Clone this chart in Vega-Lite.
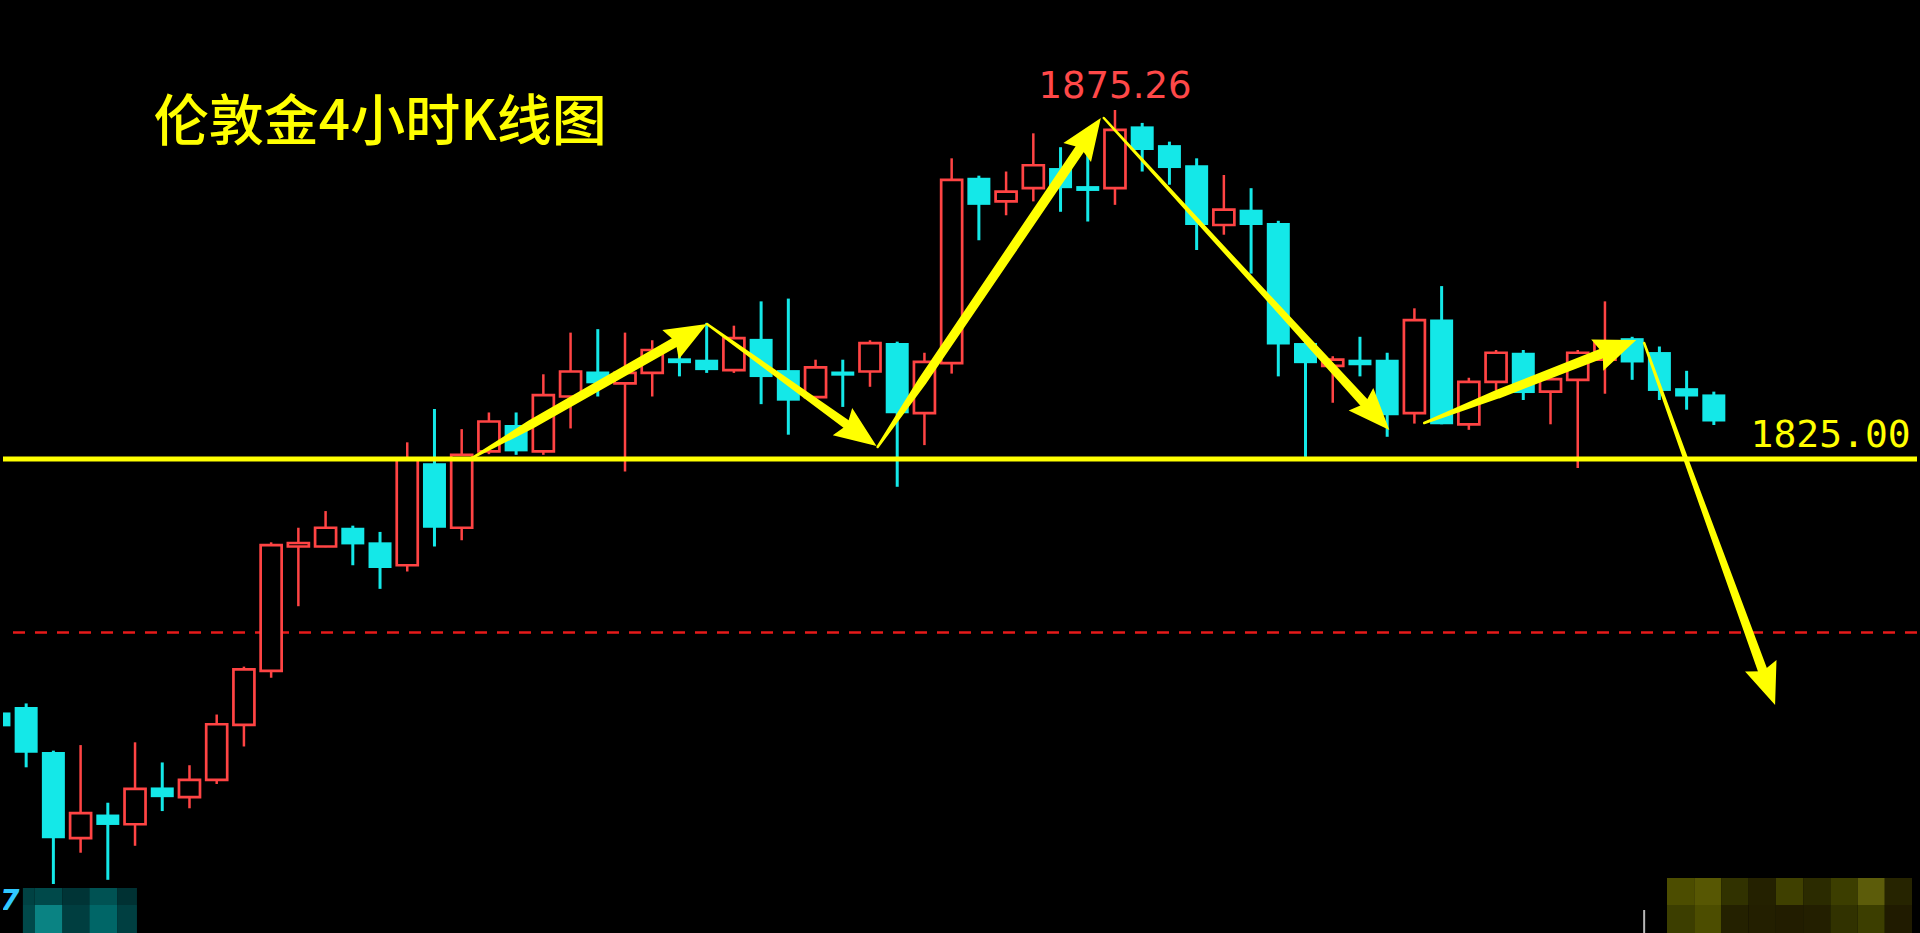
{
  "$schema": "https://vega.github.io/schema/vega-lite/v6.json",
  "width": 1920,
  "height": 933,
  "autosize": {"type": "fit", "contains": "padding"},
  "padding": 0,
  "background": "#000000",
  "config": {"view": {"stroke": null}},
  "datasets": {
    "candles": [
      {"i": -1, "o": 1788.5, "h": 1789.0, "l": 1786.0, "c": 1786.5},
      {"i": 0, "o": 1789.3, "h": 1789.8, "l": 1780.6, "c": 1782.7},
      {"i": 1, "o": 1782.8, "h": 1783.0, "l": 1763.8, "c": 1770.4},
      {"i": 2, "o": 1770.4, "h": 1783.8, "l": 1768.3, "c": 1774.0},
      {"i": 3, "o": 1773.8, "h": 1775.5, "l": 1764.4, "c": 1772.3},
      {"i": 4, "o": 1772.4, "h": 1784.2, "l": 1769.3, "c": 1777.5},
      {"i": 5, "o": 1777.7, "h": 1781.3, "l": 1774.3, "c": 1776.3},
      {"i": 6, "o": 1776.3, "h": 1780.9, "l": 1774.7, "c": 1778.8},
      {"i": 7, "o": 1778.8, "h": 1788.2, "l": 1778.2, "c": 1786.8},
      {"i": 8, "o": 1786.7, "h": 1795.1, "l": 1783.6, "c": 1794.7},
      {"i": 9, "o": 1794.5, "h": 1813.0, "l": 1793.5, "c": 1812.6},
      {"i": 10, "o": 1812.4, "h": 1815.1, "l": 1803.8, "c": 1812.9},
      {"i": 11, "o": 1812.4, "h": 1817.5, "l": 1812.3, "c": 1815.1},
      {"i": 12, "o": 1815.1, "h": 1815.4, "l": 1809.7, "c": 1812.7},
      {"i": 13, "o": 1813.0, "h": 1814.5, "l": 1806.3, "c": 1809.3},
      {"i": 14, "o": 1809.7, "h": 1827.4, "l": 1808.8, "c": 1825.1},
      {"i": 15, "o": 1824.4, "h": 1832.2, "l": 1812.4, "c": 1815.1},
      {"i": 16, "o": 1815.1, "h": 1829.3, "l": 1813.3, "c": 1825.6},
      {"i": 17, "o": 1826.1, "h": 1831.7, "l": 1825.7, "c": 1830.4},
      {"i": 18, "o": 1829.9, "h": 1831.7, "l": 1825.6, "c": 1826.1},
      {"i": 19, "o": 1826.1, "h": 1837.2, "l": 1825.6, "c": 1834.2},
      {"i": 20, "o": 1834.0, "h": 1843.2, "l": 1829.4, "c": 1837.6},
      {"i": 21, "o": 1837.6, "h": 1843.7, "l": 1834.0, "c": 1835.9},
      {"i": 22, "o": 1835.9, "h": 1843.2, "l": 1823.2, "c": 1837.4},
      {"i": 23, "o": 1837.4, "h": 1842.1, "l": 1834.0, "c": 1840.7},
      {"i": 24, "o": 1839.5, "h": 1840.3, "l": 1836.9, "c": 1838.8},
      {"i": 25, "o": 1839.3, "h": 1844.6, "l": 1837.4, "c": 1837.8},
      {"i": 26, "o": 1837.8, "h": 1844.2, "l": 1837.4, "c": 1842.4},
      {"i": 27, "o": 1842.3, "h": 1847.7, "l": 1832.9, "c": 1836.8},
      {"i": 28, "o": 1837.8, "h": 1848.1, "l": 1828.5, "c": 1833.4},
      {"i": 29, "o": 1833.9, "h": 1839.3, "l": 1833.5, "c": 1838.2},
      {"i": 30, "o": 1837.6, "h": 1839.3, "l": 1832.5, "c": 1837.0},
      {"i": 31, "o": 1837.6, "h": 1842.1, "l": 1835.4, "c": 1841.7},
      {"i": 32, "o": 1841.7, "h": 1841.9, "l": 1821.0, "c": 1831.6},
      {"i": 33, "o": 1831.6, "h": 1840.3, "l": 1827.0, "c": 1839.0},
      {"i": 34, "o": 1838.8, "h": 1868.3, "l": 1837.3, "c": 1865.2},
      {"i": 35, "o": 1865.5, "h": 1865.8, "l": 1856.5, "c": 1861.6},
      {"i": 36, "o": 1862.1, "h": 1866.4, "l": 1860.1, "c": 1863.5},
      {"i": 37, "o": 1864.0, "h": 1871.9, "l": 1862.1, "c": 1867.3},
      {"i": 38, "o": 1866.9, "h": 1869.9, "l": 1860.6, "c": 1864.0},
      {"i": 39, "o": 1864.3, "h": 1869.3, "l": 1859.2, "c": 1863.6},
      {"i": 40, "o": 1864.0, "h": 1875.26, "l": 1861.6, "c": 1872.4},
      {"i": 41, "o": 1872.9, "h": 1873.4, "l": 1866.4, "c": 1869.5},
      {"i": 42, "o": 1870.2, "h": 1870.7, "l": 1864.5, "c": 1866.9},
      {"i": 43, "o": 1867.3, "h": 1868.3, "l": 1855.1, "c": 1858.7},
      {"i": 44, "o": 1858.7, "h": 1865.9, "l": 1857.3, "c": 1860.9},
      {"i": 45, "o": 1860.9, "h": 1864.0, "l": 1851.7, "c": 1858.7},
      {"i": 46, "o": 1859.0, "h": 1859.3, "l": 1836.9, "c": 1841.5},
      {"i": 47, "o": 1841.7, "h": 1841.9, "l": 1825.3, "c": 1838.8},
      {"i": 48, "o": 1838.4, "h": 1839.8, "l": 1833.1, "c": 1839.3},
      {"i": 49, "o": 1839.3, "h": 1842.6, "l": 1836.9, "c": 1838.5},
      {"i": 50, "o": 1839.3, "h": 1840.3, "l": 1828.2, "c": 1831.3},
      {"i": 51, "o": 1831.6, "h": 1846.7, "l": 1830.1, "c": 1845.0},
      {"i": 52, "o": 1845.1, "h": 1849.9, "l": 1830.0, "c": 1830.0},
      {"i": 53, "o": 1830.0, "h": 1836.7, "l": 1829.2, "c": 1836.1},
      {"i": 54, "o": 1836.1, "h": 1840.7, "l": 1834.9, "c": 1840.3},
      {"i": 55, "o": 1840.3, "h": 1840.7, "l": 1833.5, "c": 1834.5},
      {"i": 56, "o": 1834.7, "h": 1837.0, "l": 1830.0, "c": 1836.5},
      {"i": 57, "o": 1836.4, "h": 1840.7, "l": 1823.7, "c": 1840.3},
      {"i": 58, "o": 1839.3, "h": 1847.7, "l": 1834.4, "c": 1841.7},
      {"i": 59, "o": 1842.4, "h": 1842.6, "l": 1836.4, "c": 1838.9},
      {"i": 60, "o": 1840.4, "h": 1841.2, "l": 1833.5, "c": 1834.8},
      {"i": 61, "o": 1835.2, "h": 1837.7, "l": 1832.1, "c": 1834.0},
      {"i": 62, "o": 1834.3, "h": 1834.7, "l": 1829.9, "c": 1830.4}
    ],
    "arrows": [
      {"a": "A1", "i": 16.38, "p": 1825.14, "stage": 0},
      {"a": "A1", "i": 18.54, "p": 1829.97, "stage": 2.6},
      {"a": "A1", "i": 24.44, "p": 1843.16, "stage": 3},
      {"a": "A2", "i": 25.01, "p": 1844.44, "stage": 0},
      {"a": "A2", "i": 30.71, "p": 1828.38, "stage": 3},
      {"a": "A3", "i": 31.28, "p": 1826.73, "stage": 0},
      {"a": "A3", "i": 32.92, "p": 1836.2, "stage": 2.6},
      {"a": "A3", "i": 39.11, "p": 1871.96, "stage": 3},
      {"a": "A4", "i": 39.59, "p": 1874.11, "stage": 0},
      {"a": "A4", "i": 44.14, "p": 1854.6, "stage": 1},
      {"a": "A4", "i": 49.63, "p": 1831.08, "stage": 3},
      {"a": "A5", "i": 51.36, "p": 1830.18, "stage": 0},
      {"a": "A5", "i": 54.08, "p": 1834.37, "stage": 2.6},
      {"a": "A5", "i": 58.54, "p": 1841.2, "stage": 3},
      {"a": "A6", "i": 59.44, "p": 1841.7, "stage": 0},
      {"a": "A6", "i": 60.97, "p": 1825.0, "stage": 1},
      {"a": "A6", "i": 64.03, "p": 1792.01, "stage": 3}
    ],
    "heads": [
      {"a": "A1", "i": 25.01, "p": 1844.44, "ang": 60.5},
      {"a": "A2", "i": 31.24, "p": 1826.87, "ang": 125.5},
      {"a": "A3", "i": 39.48, "p": 1874.11, "ang": 34.4},
      {"a": "A4", "i": 50.08, "p": 1829.18, "ang": 137.3},
      {"a": "A5", "i": 59.15, "p": 1842.14, "ang": 68.8},
      {"a": "A6", "i": 64.25, "p": 1789.57, "ang": 160.0}
    ],
    "olive": [
      {"x0": 60.28, "x1": 61.28, "y0": 1760.77, "y1": 1764.66, "shade": 0.29},
      {"x0": 61.28, "x1": 62.28, "y0": 1760.77, "y1": 1764.66, "shade": 0.33},
      {"x0": 62.28, "x1": 63.28, "y0": 1760.77, "y1": 1764.66, "shade": 0.18},
      {"x0": 63.28, "x1": 64.28, "y0": 1760.77, "y1": 1764.66, "shade": 0.11},
      {"x0": 64.28, "x1": 65.28, "y0": 1760.77, "y1": 1764.66, "shade": 0.24},
      {"x0": 65.28, "x1": 66.28, "y0": 1760.77, "y1": 1764.66, "shade": 0.15},
      {"x0": 66.28, "x1": 67.28, "y0": 1760.77, "y1": 1764.66, "shade": 0.23},
      {"x0": 67.28, "x1": 68.28, "y0": 1760.77, "y1": 1764.66, "shade": 0.35},
      {"x0": 68.28, "x1": 69.28, "y0": 1760.77, "y1": 1764.66, "shade": 0.12},
      {"x0": 60.28, "x1": 61.28, "y0": 1756.74, "y1": 1760.77, "shade": 0.23},
      {"x0": 61.28, "x1": 62.28, "y0": 1756.74, "y1": 1760.77, "shade": 0.29},
      {"x0": 62.28, "x1": 63.28, "y0": 1756.74, "y1": 1760.77, "shade": 0.11},
      {"x0": 63.28, "x1": 64.28, "y0": 1756.74, "y1": 1760.77, "shade": 0.10},
      {"x0": 64.28, "x1": 65.28, "y0": 1756.74, "y1": 1760.77, "shade": 0.09},
      {"x0": 65.28, "x1": 66.28, "y0": 1756.74, "y1": 1760.77, "shade": 0.10},
      {"x0": 66.28, "x1": 67.28, "y0": 1756.74, "y1": 1760.77, "shade": 0.18},
      {"x0": 67.28, "x1": 68.28, "y0": 1756.74, "y1": 1760.77, "shade": 0.23},
      {"x0": 68.28, "x1": 69.28, "y0": 1756.74, "y1": 1760.77, "shade": 0.08}
    ],
    "teal": [
      {"x0": -0.12, "x1": 0.317, "y0": 1760.77, "y1": 1763.22, "shade": 0.44},
      {"x0": 0.317, "x1": 1.337, "y0": 1760.77, "y1": 1763.22, "shade": 0.5},
      {"x0": 1.337, "x1": 2.32, "y0": 1760.77, "y1": 1763.22, "shade": 0.33},
      {"x0": 2.32, "x1": 3.34, "y0": 1760.77, "y1": 1763.22, "shade": 0.57},
      {"x0": 3.34, "x1": 4.07, "y0": 1760.77, "y1": 1763.22, "shade": 0.3},
      {"x0": -0.12, "x1": 0.317, "y0": 1756.74, "y1": 1760.77, "shade": 0.5},
      {"x0": 0.317, "x1": 1.337, "y0": 1756.74, "y1": 1760.77, "shade": 0.95},
      {"x0": 1.337, "x1": 2.32, "y0": 1756.74, "y1": 1760.77, "shade": 0.41},
      {"x0": 2.32, "x1": 3.34, "y0": 1756.74, "y1": 1760.77, "shade": 0.73},
      {"x0": 3.34, "x1": 4.07, "y0": 1756.74, "y1": 1760.77, "shade": 0.42}
    ]
  },
  "resolve": {"scale": {"color": "independent"}},
  "layer": [
    {
      "data": {"name": "teal"},
      "mark": {"type": "rect", "clip": true},
      "encoding": {
        "x": {"field": "x0", "type": "quantitative", "scale": {"domain": [-0.667, 69.28], "nice": false, "zero": false}, "axis": null},
        "x2": {"field": "x1"},
        "y": {"field": "y0", "type": "quantitative", "scale": {"domain": [1756.74, 1891.1], "nice": false, "zero": false}, "axis": null},
        "y2": {"field": "y1"},
        "color": {"field": "shade", "type": "quantitative", "scale": {"domain": [0, 1], "range": ["#000000", "#1a8a8a"]}, "legend": null}
      }
    },
    {
      "data": {"name": "olive"},
      "mark": {"type": "rect", "clip": true},
      "encoding": {
        "x": {"field": "x0", "type": "quantitative", "scale": {"domain": [-0.667, 69.28], "nice": false, "zero": false}, "axis": null},
        "x2": {"field": "x1"},
        "y": {"field": "y0", "type": "quantitative", "scale": {"domain": [1756.74, 1891.1], "nice": false, "zero": false}, "axis": null},
        "y2": {"field": "y1"},
        "color": {"field": "shade", "type": "quantitative", "scale": {"domain": [0, 0.35], "range": ["#000000", "#5c5c0a"]}, "legend": null}
      }
    },
    {
      "data": {"values": [{"i": 59.44, "p0": 1756.74, "p1": 1760.05}]},
      "mark": {"type": "rule", "color": "#b8b8b8", "strokeWidth": 2, "clip": true},
      "encoding": {
        "x": {"field": "i", "type": "quantitative", "scale": {"domain": [-0.667, 69.28], "nice": false, "zero": false}, "axis": null},
        "y": {"field": "p0", "type": "quantitative", "scale": {"domain": [1756.74, 1891.1], "nice": false, "zero": false}, "axis": null},
        "y2": {"field": "p1"}
      }
    },
    {
      "data": {"values": [{"p": 1800}]},
      "mark": {"type": "rule", "color": "#e61a1a", "strokeWidth": 2.5, "strokeDash": [12, 10]},
      "encoding": {
        "y": {"field": "p", "type": "quantitative", "scale": {"domain": [1756.74, 1891.1], "nice": false, "zero": false}, "axis": null}
      }
    },
    {
      "data": {"name": "candles"},
      "transform": [{"filter": "datum.c >= datum.o"}],
      "mark": {"type": "rule", "color": "#ff4444", "strokeWidth": 2.5, "clip": true},
      "encoding": {
        "x": {"field": "i", "type": "quantitative", "scale": {"domain": [-0.667, 69.28], "nice": false, "zero": false}, "axis": null},
        "y": {"field": "l", "type": "quantitative", "scale": {"domain": [1756.74, 1891.1], "nice": false, "zero": false}, "axis": null},
        "y2": {"field": "h"}
      }
    },
    {
      "data": {"name": "candles"},
      "transform": [{"filter": "datum.c < datum.o"}],
      "mark": {"type": "rule", "color": "#14e8e8", "strokeWidth": 3, "clip": true},
      "encoding": {
        "x": {"field": "i", "type": "quantitative", "scale": {"domain": [-0.667, 69.28], "nice": false, "zero": false}, "axis": null},
        "y": {"field": "l", "type": "quantitative", "scale": {"domain": [1756.74, 1891.1], "nice": false, "zero": false}, "axis": null},
        "y2": {"field": "h"}
      }
    },
    {
      "data": {"name": "candles"},
      "transform": [{"filter": "datum.c >= datum.o"}],
      "mark": {"type": "bar", "orient": "vertical", "width": 21, "fill": "#000000", "stroke": "#ff4444", "strokeWidth": 2.7, "clip": true},
      "encoding": {
        "x": {"field": "i", "type": "quantitative", "scale": {"domain": [-0.667, 69.28], "nice": false, "zero": false}, "axis": null},
        "y": {"field": "o", "type": "quantitative", "scale": {"domain": [1756.74, 1891.1], "nice": false, "zero": false}, "axis": null},
        "y2": {"field": "c"}
      }
    },
    {
      "data": {"name": "candles"},
      "transform": [{"filter": "datum.c < datum.o"}],
      "mark": {"type": "bar", "orient": "vertical", "width": 23, "fill": "#14e8e8", "clip": true},
      "encoding": {
        "x": {"field": "i", "type": "quantitative", "scale": {"domain": [-0.667, 69.28], "nice": false, "zero": false}, "axis": null},
        "y": {"field": "o", "type": "quantitative", "scale": {"domain": [1756.74, 1891.1], "nice": false, "zero": false}, "axis": null},
        "y2": {"field": "c"}
      }
    },
    {
      "data": {"values": [{"p": 1825}]},
      "mark": {"type": "rule", "color": "#ffff00", "strokeWidth": 5},
      "encoding": {
        "y": {"field": "p", "type": "quantitative", "scale": {"domain": [1756.74, 1891.1], "nice": false, "zero": false}, "axis": null}
      }
    },
    {
      "data": {"name": "arrows"},
      "mark": {"type": "trail", "color": "#ffff00", "clip": true},
      "encoding": {
        "x": {"field": "i", "type": "quantitative", "scale": {"domain": [-0.667, 69.28], "nice": false, "zero": false}, "axis": null},
        "y": {"field": "p", "type": "quantitative", "scale": {"domain": [1756.74, 1891.1], "nice": false, "zero": false}, "axis": null},
        "detail": {"field": "a", "type": "nominal"},
        "size": {"field": "stage", "type": "quantitative", "scale": {"domain": [0, 3], "range": [2.5, 10], "zero": false}, "legend": null}
      }
    },
    {
      "data": {"name": "heads"},
      "mark": {"type": "point", "shape": "M0,0L0.4,1L0,0.86L-0.4,1Z", "filled": true, "color": "#ffff00", "opacity": 1, "size": 7000, "strokeWidth": 0, "clip": true},
      "encoding": {
        "x": {"field": "i", "type": "quantitative", "scale": {"domain": [-0.667, 69.28], "nice": false, "zero": false}, "axis": null},
        "y": {"field": "p", "type": "quantitative", "scale": {"domain": [1756.74, 1891.1], "nice": false, "zero": false}, "axis": null},
        "angle": {"field": "ang", "type": "quantitative", "scale": null}
      }
    },
    {
      "data": {"values": [{"i": 4.69, "p": 1873.4, "t": "伦敦金4小时K线图"}]},
      "mark": {"type": "text", "align": "left", "baseline": "middle", "font": "Noto Sans CJK SC", "fontSize": 55, "fontWeight": 500, "color": "#ffff00", "clip": true},
      "encoding": {
        "x": {"field": "i", "type": "quantitative", "scale": {"domain": [-0.667, 69.28], "nice": false, "zero": false}, "axis": null},
        "y": {"field": "p", "type": "quantitative", "scale": {"domain": [1756.74, 1891.1], "nice": false, "zero": false}, "axis": null},
        "text": {"field": "t"}
      }
    },
    {
      "data": {"values": [{"i": 40.0, "p": 1877.0, "t": "1875.26"}]},
      "mark": {"type": "text", "align": "center", "baseline": "alphabetic", "font": "DejaVu Sans", "fontSize": 37, "color": "#ff4848", "clip": true},
      "encoding": {
        "x": {"field": "i", "type": "quantitative", "scale": {"domain": [-0.667, 69.28], "nice": false, "zero": false}, "axis": null},
        "y": {"field": "p", "type": "quantitative", "scale": {"domain": [1756.74, 1891.1], "nice": false, "zero": false}, "axis": null},
        "text": {"field": "t"}
      }
    },
    {
      "data": {"values": [{"i": 63.35, "p": 1826.7, "t": "1825.00"}]},
      "mark": {"type": "text", "align": "left", "baseline": "alphabetic", "font": "DejaVu Sans Mono", "fontSize": 38, "color": "#ffff00", "clip": true},
      "encoding": {
        "x": {"field": "i", "type": "quantitative", "scale": {"domain": [-0.667, 69.28], "nice": false, "zero": false}, "axis": null},
        "y": {"field": "p", "type": "quantitative", "scale": {"domain": [1756.74, 1891.1], "nice": false, "zero": false}, "axis": null},
        "text": {"field": "t"}
      }
    },
    {
      "data": {"values": [{"i": -0.6, "p": 1761.2, "t": "7"}]},
      "mark": {"type": "text", "align": "center", "baseline": "middle", "font": "DejaVu Sans", "fontStyle": "italic", "fontWeight": "bold", "fontSize": 28, "color": "#30c8ff", "clip": true},
      "encoding": {
        "x": {"field": "i", "type": "quantitative", "scale": {"domain": [-0.667, 69.28], "nice": false, "zero": false}, "axis": null},
        "y": {"field": "p", "type": "quantitative", "scale": {"domain": [1756.74, 1891.1], "nice": false, "zero": false}, "axis": null},
        "text": {"field": "t"}
      }
    }
  ]
}
